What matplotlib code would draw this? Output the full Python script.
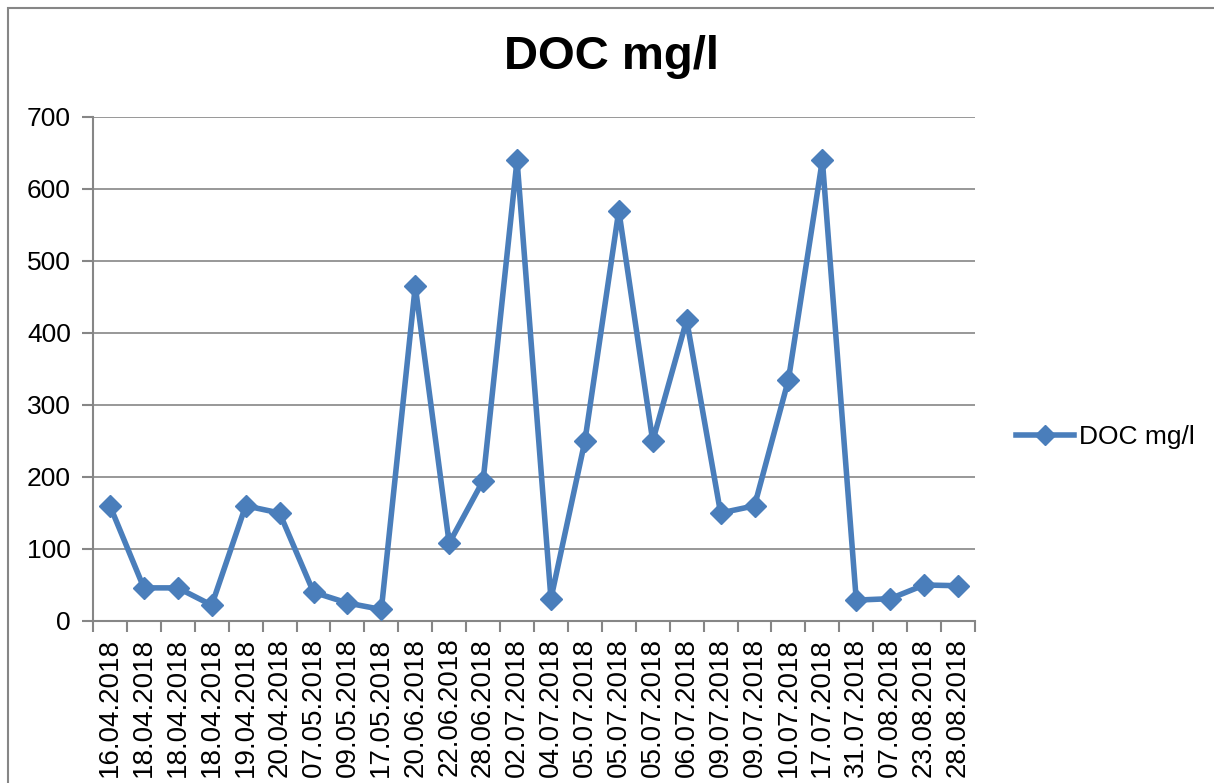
import matplotlib.pyplot as plt
from matplotlib.patches import Rectangle
import numpy as np

plt.rcParams['font.family'] = ['Liberation Sans', 'DejaVu Sans']

#-------------------------------------------------------------------------------
# Data
dates = [
    "16.04.2018", "18.04.2018", "18.04.2018", "18.04.2018", "19.04.2018",
    "20.04.2018", "07.05.2018", "09.05.2018", "17.05.2018", "20.06.2018",
    "22.06.2018", "28.06.2018", "02.07.2018", "04.07.2018", "05.07.2018",
    "05.07.2018", "05.07.2018", "06.07.2018", "09.07.2018", "09.07.2018",
    "10.07.2018", "17.07.2018", "31.07.2018", "07.08.2018", "23.08.2018",
    "28.08.2018",
]
doc = [160, 46, 46, 22, 160, 150, 40, 25, 16, 465,
       108, 195, 640, 31, 250, 570, 250, 418, 150, 160,
       335, 640, 29, 31, 50, 49]
y_ticks = [0, 100, 200, 300, 400, 500, 600, 700]
#-------------------------------------------------------------------------------

W, H = 1214, 783
blue = '#4A7EBB'
grey = '#868686'

fig = plt.figure(figsize=(W / 100, H / 100), dpi=100)
ax = fig.add_axes([93 / W, (H - 621) / H, 882 / W, 504 / H])

# chart border (partly outside the picture, as in the reference)
fig.patches.append(Rectangle((8 / W, -0.1), 1.5, (H - 8) / H + 0.1,
                             transform=fig.transFigure, fill=False,
                             edgecolor=grey, lw=1.5))

x = np.arange(len(doc))
ax.plot(x, doc, color=blue, lw=4, marker='D', markersize=11,
        markeredgecolor=blue, label='DOC mg/l', zorder=3)

ax.set_xlim(-0.5, len(doc) - 0.5)
ax.set_ylim(0, 700)
ax.set_yticks(y_ticks)
ax.yaxis.grid(True, color=grey, lw=1.2)
ax.set_axisbelow(True)

ax.set_xticks(x)
ax.set_xticklabels(dates, rotation=90, fontsize=20)
ax.set_xticks(np.arange(len(doc) + 1) - 0.5, minor=True)
ax.tick_params(axis='x', which='major', length=0, pad=12)
ax.tick_params(axis='x', which='minor', length=8, width=1.5, color=grey, direction='out')
ax.tick_params(axis='y', length=8, width=1.5, color=grey, labelsize=19, pad=8)

for s in ['top', 'right']:
    ax.spines[s].set_visible(False)
for s in ['left', 'bottom']:
    ax.spines[s].set_color(grey)
    ax.spines[s].set_linewidth(1.5)

fig.text(612 / W, 1 - 57 / H, 'DOC mg/l', ha='center', va='center',
         fontsize=34, fontweight='bold')

ax.legend(loc='center left', bbox_to_anchor=(992 / W, 1 - 437 / H),
          bbox_transform=fig.transFigure, frameon=False, fontsize=19,
          handlelength=2.2, handletextpad=0.2, markerscale=0.9)

fig.savefig('out.png', dpi=100)
